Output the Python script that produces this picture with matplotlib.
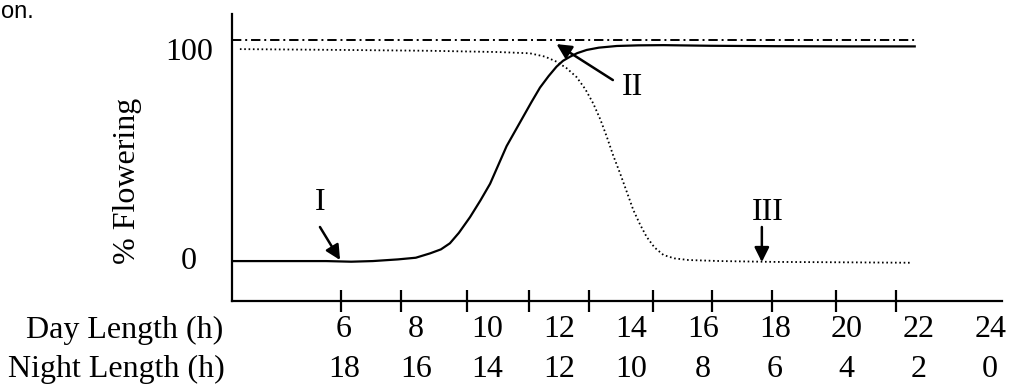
import numpy as np
import matplotlib
matplotlib.use("Agg")
import matplotlib.pyplot as plt

# curve I (solid): day length (h) vs % flowering
day_I = [2.88, 5.5, 6.2, 6.8, 7.5, 8.0, 8.4, 8.7, 8.95, 9.2, 9.51, 9.8, 10.07, 10.3,
         10.53, 10.76, 10.99, 11.22, 11.46, 11.7, 11.92, 12.1, 12.3, 12.5, 12.76,
         13.1, 13.6, 14.2, 14.9, 16.2, 18.0, 20.0, 21.93]
flw_I = [0, 0, -0.3, 0, 0.8, 1.6, 3.7, 5.6, 8.5, 13.5, 21, 29, 37, 46,
         55, 62, 69, 76, 83, 88.5, 93, 95.8, 97.8, 99.5, 101,
         102.1, 102.9, 103.2, 103.3, 103.0, 102.8, 102.7, 102.7]

# curve III (dotted)
day_III = [3.1, 6.0, 8.4, 10.3, 11.18, 11.6, 11.92, 12.2, 12.48, 12.72, 12.94, 13.14,
           13.32, 13.5, 13.69, 13.88, 14.06, 14.25, 14.43, 14.65, 14.9, 15.2, 15.6,
           16.5, 18.0, 20.0, 21.77]
flw_III = [101.4, 101.0, 100.6, 100.0, 99.4, 97.8, 95.4, 92.3, 88, 82.3, 75.5, 67.8,
           59.5, 50.5, 42, 33, 24.4, 17.4, 11.6, 6.5, 2.9, 1.3, 0.5,
           0, -0.4, -0.6, -0.8]

# curve II (dash-dot, constant)
day_II = [2.88, 21.93]
flw_II = [105.7, 105.7]

tick_marks = [5.92, 7.59, 9.43, 11.15, 12.82, 14.61, 16.25, 17.92, 19.70, 21.37]
day_labels = [6, 8, 10, 12, 14, 16, 18, 20, 22, 24]
night_labels = [24 - d for d in day_labels]
y_labels = [0, 100]

plt.rcParams["font.family"] = ["Liberation Serif", "DejaVu Serif"]
fs = 23

fig = plt.figure(figsize=(10.11, 3.87), dpi=100)

# bit of the surrounding page text
fig.text(0.001, 0.997, "on.", ha="left", va="top", fontsize=17,
         family="Liberation Sans")

ax = fig.add_axes([232 / 1011, 1 - 301 / 387, 770 / 1011, 287 / 387])
ax.patch.set_alpha(0)
ax.set_xlim(2.88, 24.33)
ax.set_ylim(-19.1, 118.2)

for side in ["top", "right"]:
    ax.spines[side].set_visible(False)
for side in ["left", "bottom"]:
    ax.spines[side].set_linewidth(1.6)

ax.plot(day_I, flw_I, color="black", lw=1.6, solid_capstyle="butt")
ax.plot(day_III, flw_III, color="black", lw=1.3, linestyle=(0, (0.9, 1.5)))
ax.plot(day_II, flw_II, color="black", lw=1.4, linestyle=(0, (4.8, 2, 1, 2)))

ax.set_xticks(tick_marks)
ax.set_xticklabels([])
ax.set_yticks([])
ax.tick_params(axis="x", direction="inout", length=16, width=1.6)

xt = ax.get_xaxis_transform()
for d, n in zip(day_labels, night_labels):
    ax.text(d, -0.101, str(d), transform=xt, ha="center", va="center", fontsize=fs)
    ax.text(d, -0.240, str(n), transform=xt, ha="center", va="center", fontsize=fs)
ax.text(-0.011, -0.101, "Day Length (h)", transform=ax.transAxes, ha="right",
        va="center", fontsize=fs)
ax.text(-0.009, -0.240, "Night Length (h)", transform=ax.transAxes, ha="right",
        va="center", fontsize=fs)

yt = ax.get_yaxis_transform()
for v in y_labels:
    ax.text(-0.056, v, str(v), transform=yt, ha="center", va="center", fontsize=fs)
ax.text(-0.136, 0.42, "% Flowering", transform=ax.transAxes, rotation=90,
        ha="center", va="center", fontsize=fs)

arrow = dict(arrowstyle="-|>", mutation_scale=22, lw=1.8, color="black",
             shrinkA=0, shrinkB=0)
ax.annotate("", xy=(5.89, 0.5), xytext=(5.33, 16.3), arrowprops=arrow)
ax.text(5.33, 27.8, "I", ha="center", va="center", fontsize=fs)
ax.annotate("", xy=(11.92, 103.8), xytext=(13.49, 86.6), arrowprops=arrow)
ax.text(14.05, 82.8, "II", ha="center", va="center", fontsize=fs)
ax.annotate("", xy=(17.64, -0.5), xytext=(17.64, 16.3), arrowprops=arrow)
ax.text(17.81, 23, "III", ha="center", va="center", fontsize=fs)

fig.savefig("out.png", dpi=100)
